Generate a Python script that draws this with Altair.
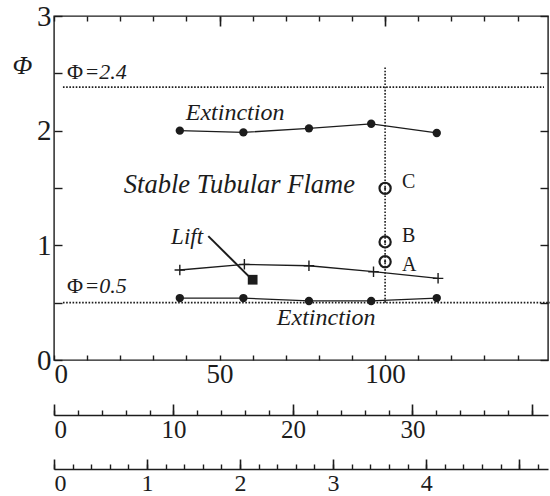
import altair as alt
import pandas as pd

# ---------------- data ----------------
ext_hi_x = [38, 57.2, 77, 95.8, 115.6]
ext_hi_y = [2.00, 1.985, 2.02, 2.06, 1.98]
ext_lo_x = [38, 57.2, 77, 95.8, 115.6]
ext_lo_y = [0.54, 0.54, 0.515, 0.515, 0.54]
lift_x = [38, 57.5, 77, 96.5, 116]
lift_y = [0.785, 0.834, 0.822, 0.77, 0.712]
lift_sq_x = [60]
lift_sq_y = [0.70]
abc_x = [100, 100, 100]
abc_y = [0.857, 1.03, 1.497]
abc_labels = ["A", "B", "C"]
abc_label_y = [0.83, 1.08, 1.55]
phi_hi = 2.38
phi_lo = 0.5
vline_x = 100
vline_y = [0.5, 2.55]

x_labels = [0, 50, 100]
y_labels = [0, 1, 2, 3]
x2_labels = [0, 10, 20, 30]
x3_labels = [0, 1, 2, 3, 4]

XDOM = [0, 149.2]
YDOM = [0, 3]
X2DOM = [0, 41.34]
X3DOM = [0, 5.31]
W, H = 494, 344
INK = "#1c1c1c"
SERIF = "Liberation Serif"


def xs(field="x", dom=XDOM, axis=None):
    return alt.X(f"{field}:Q", scale=alt.Scale(domain=dom, nice=False, zero=False), axis=axis)


def ys(field="y", axis=None):
    return alt.Y(f"{field}:Q", scale=alt.Scale(domain=YDOM, nice=False, zero=False), axis=axis)


def frame(**cols):
    return pd.DataFrame(cols)


layers = []

# dotted reference lines
hl = frame(x=[2.7, 2.7], x2=[148, 150], y=[phi_hi, phi_lo])
layers.append(alt.Chart(hl).mark_rule(color=INK, strokeDash=[1.6, 1.6], strokeWidth=1.6).encode(
    x=xs(), x2="x2:Q", y=ys()))
vl = frame(x=[vline_x], y=[vline_y[0]], y2=[vline_y[1]])
layers.append(alt.Chart(vl).mark_rule(color=INK, strokeDash=[1.6, 1.6], strokeWidth=1.6).encode(
    x=xs(), y=ys(), y2="y2:Q"))

# series lines + markers
for sx, sy in [(ext_hi_x, ext_hi_y), (ext_lo_x, ext_lo_y)]:
    d = frame(x=sx, y=sy)
    layers.append(alt.Chart(d).mark_line(color=INK, strokeWidth=1.3).encode(x=xs(), y=ys()))
    layers.append(alt.Chart(d).mark_point(filled=True, color=INK, size=70, opacity=1).encode(x=xs(), y=ys()))

d = frame(x=lift_x, y=lift_y)
layers.append(alt.Chart(d).mark_line(color=INK, strokeWidth=1.3).encode(x=xs(), y=ys()))
layers.append(alt.Chart(d).mark_point(shape="M-1,0H1M0,-1V1", filled=False, color=INK, size=110,
                                      strokeWidth=1.4, opacity=1).encode(x=xs(), y=ys()))

# lift square and its pointer
ptr = frame(x=[46.6], y=[1.08], x2=[59], y2=[0.725])
layers.append(alt.Chart(ptr).mark_rule(color=INK, strokeWidth=2).encode(
    x=xs(), y=ys(), x2="x2:Q", y2="y2:Q"))
layers.append(alt.Chart(frame(x=lift_sq_x, y=lift_sq_y)).mark_point(
    shape="square", filled=True, color=INK, size=95, opacity=1).encode(x=xs(), y=ys()))

# open circles A, B, C
abc = frame(x=abc_x, y=abc_y, t=abc_labels, ly=abc_label_y)
layers.append(alt.Chart(abc).mark_point(shape="circle", filled=False, color=INK, size=125,
                                        strokeWidth=2.2, opacity=1).encode(x=xs(), y=ys()))
layers.append(alt.Chart(abc).mark_point(shape="circle", filled=True, color=INK, size=5,
                                        opacity=1).encode(x=xs(), y=ys()))
layers.append(alt.Chart(abc).mark_text(font=SERIF, fontSize=20, color=INK, align="left",
                                       baseline="middle", dx=17).encode(x=xs(), y=ys("ly"), text="t:N"))


# annotation texts
def note(texts, x, y, size, style="italic", align="center"):
    d = frame(x=x, y=y, t=texts)
    return alt.Chart(d).mark_text(font=SERIF, fontSize=size, fontStyle=style, color=INK,
                                  align=align, baseline="middle").encode(x=xs(), y=ys(), text="t:N")


layers.append(note(["Extinction", "Extinction"], [54.7, 82.2], [2.15, 0.37], 24))
layers.append(note(["Stable Tubular Flame"], [56.0], [1.525], 26.5))
layers.append(note(["Lift"], [40.2], [1.07], 23))
layers.append(note(["Φ", "Φ"], [3.9, 3.9], [2.51, 0.645], 22, style="normal", align="left"))
layers.append(note(["=2.4", "=0.5"], [9.2, 9.2], [2.51, 0.645], 22, align="left"))


# ---------------- axes ----------------
def xaxis_layer(values, dom, **ax):
    base = dict(values=values, grid=False, domain=False, title=None, tickColor=INK, labelColor=INK,
                labelFont=SERIF)
    base.update(ax)
    return alt.Chart(frame(v=values)).mark_point(opacity=0).encode(
        x=alt.X("v:Q", scale=alt.Scale(domain=dom, nice=False, zero=False), axis=alt.Axis(**base)))


def yaxis_layer(values, **ax):
    base = dict(values=values, grid=False, domain=False, title=None, tickColor=INK, labelColor=INK,
                labelFont=SERIF)
    base.update(ax)
    return alt.Chart(frame(v=values)).mark_point(opacity=0).encode(
        y=alt.Y("v:Q", scale=alt.Scale(domain=YDOM, nice=False, zero=False), axis=alt.Axis(**base)))


half = [i * 0.5 for i in range(7)]
tens = [i * 10 for i in range(15)]

# left: labels + title
layers.append(yaxis_layer(y_labels, orient="left", ticks=False, labelFontSize=29, labelPadding=3,
                          title="Φ", titleAngle=0, titleFont=SERIF, titleFontStyle="italic",
                          titleFontWeight="normal", titleFontSize=26, titleColor=INK,
                          titleX=-32, titleY=49, titleAlign="center", titleBaseline="middle"))
# left inward ticks
layers.append(yaxis_layer(half, orient="right", offset=-W, labels=False, tickSize=8, tickWidth=1.4))
# right inward ticks
layers.append(yaxis_layer(half, orient="left", offset=-W, labels=False, tickSize=8, tickWidth=1.4))

# bottom labels
layers.append(xaxis_layer(x_labels, XDOM, orient="bottom", ticks=False, labelFontSize=27, labelPadding=1))
# bottom inward ticks
layers.append(xaxis_layer(tens, XDOM, orient="top", offset=-H, labels=False, tickSize=5, tickWidth=1.4))
# top inward ticks
layers.append(xaxis_layer(tens, XDOM, orient="bottom", offset=-H, labels=False, tickSize=5, tickWidth=1.4))
layers.append(xaxis_layer([50, 100], XDOM, orient="bottom", offset=-H, labels=False, tickSize=10, tickWidth=1.6))

# second scale
OFF2 = 55
layers.append(xaxis_layer(x2_labels, X2DOM, orient="bottom", offset=OFF2, ticks=False, domain=True,
                          domainColor=INK, domainWidth=1.5, labelFontSize=25, labelPadding=2))
layers.append(xaxis_layer([i * 2 for i in range(21)], X2DOM, orient="top", offset=-(H + OFF2),
                          labels=False, tickSize=5, tickWidth=1.4))
layers.append(xaxis_layer([0, 10, 20, 30, 40], X2DOM, orient="top", offset=-(H + OFF2),
                          labels=False, tickSize=11, tickWidth=1.6))

# third scale
OFF3 = 109
layers.append(xaxis_layer(x3_labels, X3DOM, orient="bottom", offset=OFF3, ticks=False, domain=True,
                          domainColor=INK, domainWidth=1.5, labelFontSize=24, labelPadding=2))
layers.append(xaxis_layer([round(i * 0.2, 2) for i in range(27)], X3DOM, orient="top", offset=-(H + OFF3),
                          labels=False, tickSize=5, tickWidth=1.4))
layers.append(xaxis_layer([0, 1, 2, 3, 4, 5], X3DOM, orient="top", offset=-(H + OFF3),
                          labels=False, tickSize=10, tickWidth=1.6))

chart = alt.layer(*layers).resolve_scale(x="independent").resolve_axis(
    x="independent", y="independent"
).properties(
    width=W, height=H,
    autosize=alt.AutoSizeParams(type="none"),
    padding={"left": 54, "top": 16, "right": 2, "bottom": 496 - 16 - H},
    background="white",
).configure_view(stroke=INK, strokeWidth=1.4)

chart.save("out.html", embed_options={"renderer": "svg", "actions": False})
